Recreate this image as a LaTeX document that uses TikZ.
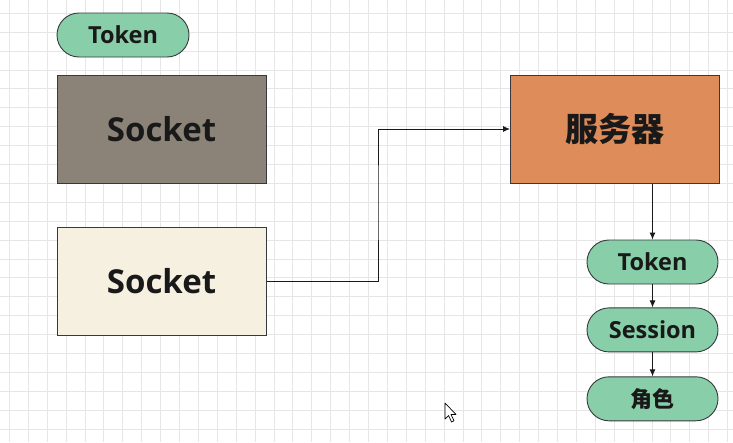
\documentclass[tikz,border=0pt]{standalone}
\usepackage{fontspec}
\setmainfont{Open Sans}
\newfontfamily\cjkfont{Noto Sans CJK SC}
\usetikzlibrary{arrows.meta, positioning}
\definecolor{pillgreen}{HTML}{88CFA9}
\definecolor{sockgray}{HTML}{8B8377}
\definecolor{sockcream}{HTML}{F5F0DF}
\definecolor{servorange}{HTML}{DE8C5A}
\definecolor{edgegray}{HTML}{36393D}
\definecolor{gridgray}{HTML}{E6E6E6}
\tikzset{
	pill/.style={draw=edgegray, fill=pillgreen, line width=0.9pt, rounded corners=22pt,
		minimum width=132pt, minimum height=44pt, inner sep=0pt,
		font=\bfseries\fontsize{23.5}{23.5}\selectfont, text=black!90},
	bigbox/.style={draw=edgegray, line width=1pt, minimum width=209pt, minimum height=108pt,
		inner sep=0pt, font=\bfseries\fontsize{33}{33}\selectfont, text=black!90},
	link/.style={draw=black!90, line width=0.9pt, -{Latex[length=7pt,width=6pt]}},
	gridline/.style={draw=gridgray, line width=0.7pt}
}

\begin{document}
\begin{tikzpicture}[x=1pt, y=-1pt]
			\useasboundingbox[fill=white] (0,0) rectangle (733,442);
			% background grid
			\foreach \gx in {0,...,38} \draw[gridline] ({9.3+18.9*\gx},0) -- ({9.3+18.9*\gx},442);
			\foreach \gy in {0,...,23} \draw[gridline] (0,{13.2+18.9*\gy}) -- (733,{13.2+18.9*\gy});
			% left column
			\node[pill] (tokenA) at (123,35) {Token};
			\node[bigbox, fill=sockgray] (sockA) at (161.5,129) {Socket};
			\node[bigbox, fill=sockcream] (sockB) at (161.5,281) {Socket};
			% server
			\node[bigbox, fill=servorange, font=\cjkfont\bfseries\fontsize{33}{33}\selectfont] (server) at (615,129) {服务器};
			% right column
			\node[pill, minimum width=131pt] (tokenB) at (652.5,262) {Token};
			\node[pill, minimum width=131pt, below=23pt of tokenB] (session) {Session};
			\node[pill, minimum width=131pt, below=24pt of session, font=\cjkfont\bfseries\fontsize{22}{22}\selectfont] (role) {角色};
			% connectors
			\coordinate (bend) at (378,200);
			\draw[link] (sockB.east) -| (bend) |- (server.west);
			\draw[link] (server.south -| tokenB.north) -- (tokenB.north);
			\draw[link] (tokenB) -- (session);
			\draw[link] (session) -- (role);
			% mouse pointer
			\draw[fill=white, line width=0.7pt, line join=round] (445,403) -- ++(0,16) -- ++(3.5,-3.5) -- ++(3,6.5) -- ++(2.5,-1.2) -- ++(-3,-6.3) -- ++(5,0) -- cycle;
		\end{tikzpicture}
\end{document}
